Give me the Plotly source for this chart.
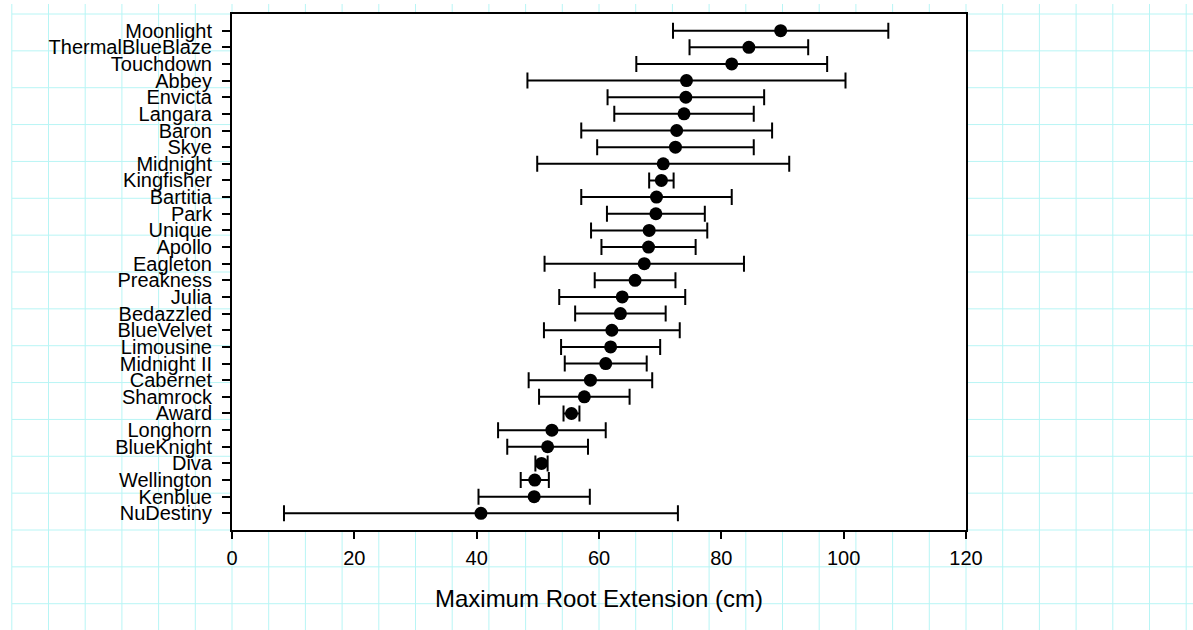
import plotly.graph_objects as go

# Data (top to bottom as in the chart)
cultivars = ["Moonlight", "ThermalBlueBlaze", "Touchdown", "Abbey", "Envicta", "Langara",
             "Baron", "Skye", "Midnight", "Kingfisher", "Bartitia", "Park", "Unique",
             "Apollo", "Eagleton", "Preakness", "Julia", "Bedazzled", "BlueVelvet",
             "Limousine", "Midnight II", "Cabernet", "Shamrock", "Award", "Longhorn",
             "BlueKnight", "Diva", "Wellington", "Kenblue", "NuDestiny"]
means = [89.7, 84.5, 81.7, 74.3, 74.2, 73.9, 72.7, 72.5, 70.5, 70.2, 69.4, 69.3, 68.2,
         68.1, 67.4, 65.9, 63.8, 63.5, 62.1, 61.9, 61.1, 58.6, 57.6, 55.5, 52.3,
         51.6, 50.6, 49.5, 49.4, 40.7]
errors = [17.6, 9.7, 15.6, 26.0, 12.8, 11.4, 15.6, 12.8, 20.6, 2.0, 12.3, 8.0, 9.5,
          7.7, 16.3, 6.6, 10.3, 7.4, 11.1, 8.1, 6.7, 10.1, 7.4, 1.3, 8.8,
          6.6, 1.0, 2.3, 9.1, 32.2]
x_ticks = [0, 20, 40, 60, 80, 100, 120]
x_title = "Maximum Root Extension (cm)"

FONT = "Liberation Sans, Arial, sans-serif"
GRID = "#b8f5f5"

fig = go.Figure()
fig.add_trace(go.Scatter(
    x=means, y=cultivars, mode="markers",
    marker=dict(color="black", size=13, symbol="circle"),
    error_x=dict(type="data", array=errors, visible=True,
                 color="black", thickness=2, width=8),
    showlegend=False, cliponaxis=False,
))

# Graph-paper background (decoration), in paper coordinates
shapes = []
for k in range(-6, 27):
    xp = k / 20.0
    shapes.append(dict(type="line", xref="paper", yref="paper",
                       x0=xp, x1=xp, y0=-0.2, y1=1.0194,
                       line=dict(color=GRID, width=1), layer="below"))
for k in range(0, 17):
    yp = 1 - k / 14.0
    shapes.append(dict(type="line", xref="paper", yref="paper",
                       x0=-0.2997, x1=1.32, y0=yp, y1=yp,
                       line=dict(color=GRID, width=1), layer="below"))
shapes.append(dict(type="rect", xref="paper", yref="paper", x0=0, x1=1, y0=0, y1=1,
                   fillcolor="white", line=dict(width=0), layer="below"))

fig.update_layout(
    width=1193, height=630,
    margin=dict(l=232, r=227, t=14, b=100, autoexpand=False),
    paper_bgcolor="white", plot_bgcolor="white",
    font=dict(family=FONT, color="black"),
    shapes=shapes,
    xaxis=dict(range=[0, 120], tickmode="array", tickvals=x_ticks,
               ticktext=[str(v) for v in x_ticks],
               showgrid=False, zeroline=False,
               showline=True, linecolor="black", linewidth=2, mirror=True,
               ticks="outside", ticklen=7, tickwidth=1.5, tickcolor="black",
               tickfont=dict(size=20, family=FONT, color="black"),
               ticklabelstandoff=2,
               title=dict(text=x_title, font=dict(size=24, family=FONT, color="black"),
                          standoff=22)),
    yaxis=dict(type="category", categoryorder="array",
               categoryarray=list(reversed(cultivars)),
               tickmode="array", tickvals=cultivars, ticktext=cultivars,
               range=[-1, 30],
               showgrid=False, zeroline=False,
               showline=True, linecolor="black", linewidth=2, mirror=True,
               ticks="outside", ticklen=8, tickwidth=1.5, tickcolor="black",
               tickfont=dict(size=20, family=FONT, color="black"),
               ticklabelstandoff=6),
)

fig.write_html("out.html")
